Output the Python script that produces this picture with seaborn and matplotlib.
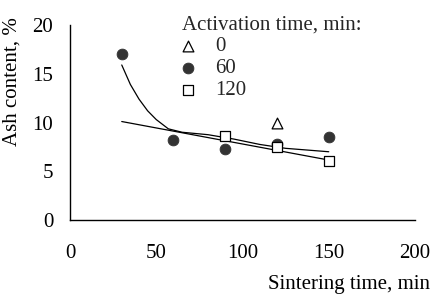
import numpy as np
import pandas as pd
import matplotlib
matplotlib.use("Agg")
import matplotlib.pyplot as plt
import seaborn as sns

# data
act0_x = [120]
act0_y = [9.9]
act60_x = [30, 60, 90, 120, 150]
act60_y = [17.0, 8.2, 7.3, 7.8, 8.5]
act120_x = [90, 120, 150]
act120_y = [8.6, 7.5, 6.1]

# trend lines
curve_x = [30, 35, 40, 45, 50, 57, 65, 80, 95, 110, 125, 150]
curve_y = [15.9, 13.9, 12.4, 11.2, 10.3, 9.35, 9.0, 8.75, 8.3, 7.75, 7.35, 7.0]
line_x = [30, 150]
line_y = [10.1, 6.15]

sns.set_theme(style="white")
plt.rcParams['font.family'] = ['Liberation Serif', 'DejaVu Serif']
fs = 15

fig = plt.figure(figsize=(4.35, 2.97), dpi=100)
ax = fig.add_axes([70/435, 1-220/297, 345/435, 195/297])

sns.lineplot(x=curve_x, y=curve_y, ax=ax, color='black', lw=0.9, zorder=2)
sns.lineplot(x=line_x, y=line_y, ax=ax, color='black', lw=0.9, zorder=2)

sns.scatterplot(x=act0_x, y=act0_y, ax=ax, marker='^', s=60, facecolor='white',
                edgecolor='black', linewidth=0.9, label='0', zorder=3)
sns.scatterplot(x=act60_x, y=act60_y, ax=ax, marker='o', s=60, color='#333333',
                edgecolor='#333333', label='60', zorder=3)
sns.scatterplot(x=act120_x, y=act120_y, ax=ax, marker='s', s=55, facecolor='white',
                edgecolor='black', linewidth=0.9, label='120', zorder=4)

ax.set_xlim(0, 200)
ax.set_ylim(0, 20)
ax.set_xticks([0, 50, 100, 150, 200])
ax.set_yticks([0, 5, 10, 15, 20])
for s in ['top', 'right']:
    ax.spines[s].set_visible(False)
for s in ['left', 'bottom']:
    ax.spines[s].set_color('black')
    ax.spines[s].set_linewidth(1.0)
ax.tick_params(direction='in', length=5, width=1, colors='black', labelsize=fs)
ax.tick_params(axis='y', pad=12)
ax.tick_params(axis='x', pad=17)

ax.set_ylabel('Ash content, %', fontsize=fs, color='black')
ax.yaxis.set_label_coords(-0.168, 0.708)
ax.yaxis.label.set_va('center')
ax.set_xlabel('Sintering time, min', fontsize=fs, color='black')
ax.xaxis.set_label_coords(1.043, -0.333)
ax.xaxis.label.set_ha('right')
ax.xaxis.label.set_va('center')

leg = ax.legend(title='Activation time, min:', loc='upper left',
                bbox_to_anchor=(177/435, 1-10/297), bbox_transform=fig.transFigure,
                frameon=False, alignment='left', fontsize=fs, title_fontsize=fs,
                borderpad=0.25, borderaxespad=0, handlelength=0.6, handletextpad=1.0,
                labelspacing=0.12)

fig.savefig('out.png', dpi=100, facecolor='white')
